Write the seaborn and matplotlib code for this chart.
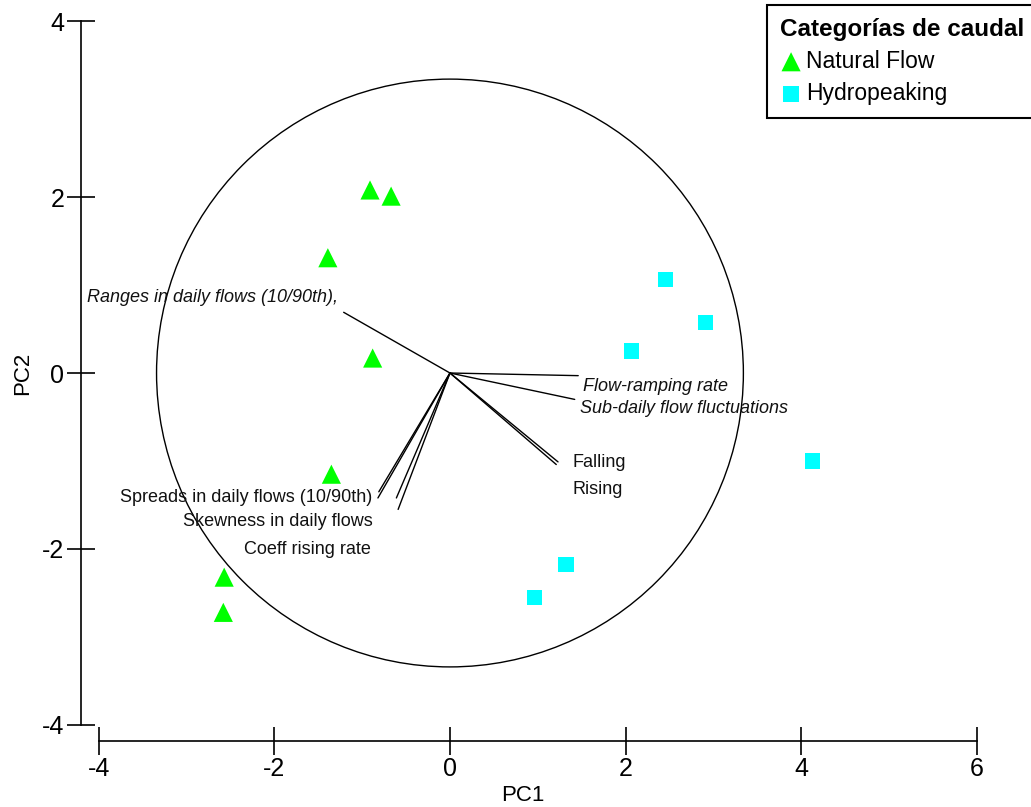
import numpy as np
import pandas as pd
import matplotlib
matplotlib.use('Agg')
import matplotlib.pyplot as plt
from matplotlib.patches import Circle
import seaborn as sns

sns.set_style('white')
plt.rcParams['font.family'] = ['Liberation Sans', 'DejaVu Sans']
plt.rcParams['axes.unicode_minus'] = False
plt.rcParams['text.color'] = 'black'
plt.rcParams['xtick.color'] = 'black'
plt.rcParams['ytick.color'] = 'black'

# site scores (PC1, PC2)
natural_pc1 = [-0.91, -0.67, -1.39, -0.88, -1.35, -2.57, -2.58]
natural_pc2 = [2.08, 2.01, 1.31, 0.17, -1.15, -2.32, -2.72]
hydro_pc1 = [2.45, 2.91, 2.07, 4.13, 1.32, 0.96]
hydro_pc2 = [1.06, 0.57, 0.25, -1.00, -2.18, -2.55]

# variable loadings (vector ends)
vec_x = [-1.21, 1.46, 1.42, 1.23, 1.21, -0.82, -0.81, -0.61, -0.59]
vec_y = [0.69, -0.03, -0.30, -1.01, -1.04, -1.42, -1.35, -1.42, -1.55]

# vector labels
lab_text = ['Ranges in daily flows (10/90th),', 'Flow-ramping rate',
            'Sub-daily flow fluctuations', 'Falling', 'Rising',
            'Spreads in daily flows (10/90th)', 'Skewness in daily flows',
            'Coeff rising rate']
lab_x = [-1.27, 1.51, 1.48, 1.40, 1.39, -0.89, -0.88, -0.90]
lab_y = [0.86, -0.15, -0.40, -1.02, -1.32, -1.41, -1.69, -2.01]
lab_italic = [True, True, True, False, False, False, False, False]
lab_ha = ['right', 'left', 'left', 'left', 'left', 'right', 'right', 'right']

circle_r = 3.34

natural = pd.DataFrame({'PC1': natural_pc1, 'PC2': natural_pc2})
hydro = pd.DataFrame({'PC1': hydro_pc1, 'PC2': hydro_pc2})

fig = plt.figure(figsize=(10.31, 8.07), dpi=100)
ax = fig.add_axes([0, 0, 1, 1])
ax.set_xlim(-5.122, 6.614)
ax.set_ylim(-4.932, 4.239)

ax.add_patch(Circle((0, 0), circle_r, fill=False, edgecolor='black', lw=1.0))

for vx, vy in zip(vec_x, vec_y):
    ax.plot([0, vx], [0, vy], color='black', lw=1.0)

for t, x, y, it, ha in zip(lab_text, lab_x, lab_y, lab_italic, lab_ha):
    ax.text(x, y, t, ha=ha, va='center', fontsize=13,
            style='italic' if it else 'normal', color='#111111')

sns.scatterplot(data=natural, x='PC1', y='PC2', marker='^', s=190,
                color='#00ff00', edgecolor='none', label='Natural Flow', ax=ax)
sns.scatterplot(data=hydro, x='PC1', y='PC2', marker='s', s=120,
                color='#00ffff', edgecolor='none', label='Hydropeaking', ax=ax)

ax.spines['top'].set_visible(False)
ax.spines['right'].set_visible(False)
ax.spines['left'].set_position(('data', -4.2))
ax.spines['left'].set_bounds(-4, 4)
ax.spines['bottom'].set_position(('data', -4.18))
ax.spines['bottom'].set_bounds(-4, 6)
for s in ['left', 'bottom']:
    ax.spines[s].set_color('black')
    ax.spines[s].set_linewidth(1.2)

ax.set_xticks([-4, -2, 0, 2, 4, 6])
ax.set_yticks([-4, -2, 0, 2, 4])
ax.tick_params(bottom=True, left=True, direction='inout', length=20,
               width=1.2, labelsize=18, color='black', labelcolor='black', pad=2)
ax.set_xlabel('')
ax.set_ylabel('')

ax.text(0.83, -4.8, 'PC1', ha='center', va='center', fontsize=16)
ax.text(-4.87, 0, 'PC2', ha='center', va='center', fontsize=16, rotation=90)

leg = ax.legend(title='Categorías de caudal', loc='upper left',
                bbox_to_anchor=(767 / 1031, 1 - 5 / 807),
                bbox_transform=fig.transFigure, borderaxespad=0,
                fontsize=16.5, title_fontproperties={'weight': 'bold', 'size': 17.5},
                alignment='left', frameon=True, fancybox=False,
                edgecolor='black', framealpha=1, handletextpad=0.15,
                handlelength=1.0, labelspacing=0.4, borderpad=0.55)
leg.get_frame().set_linewidth(1.5)

fig.savefig('out.png', dpi=100)
